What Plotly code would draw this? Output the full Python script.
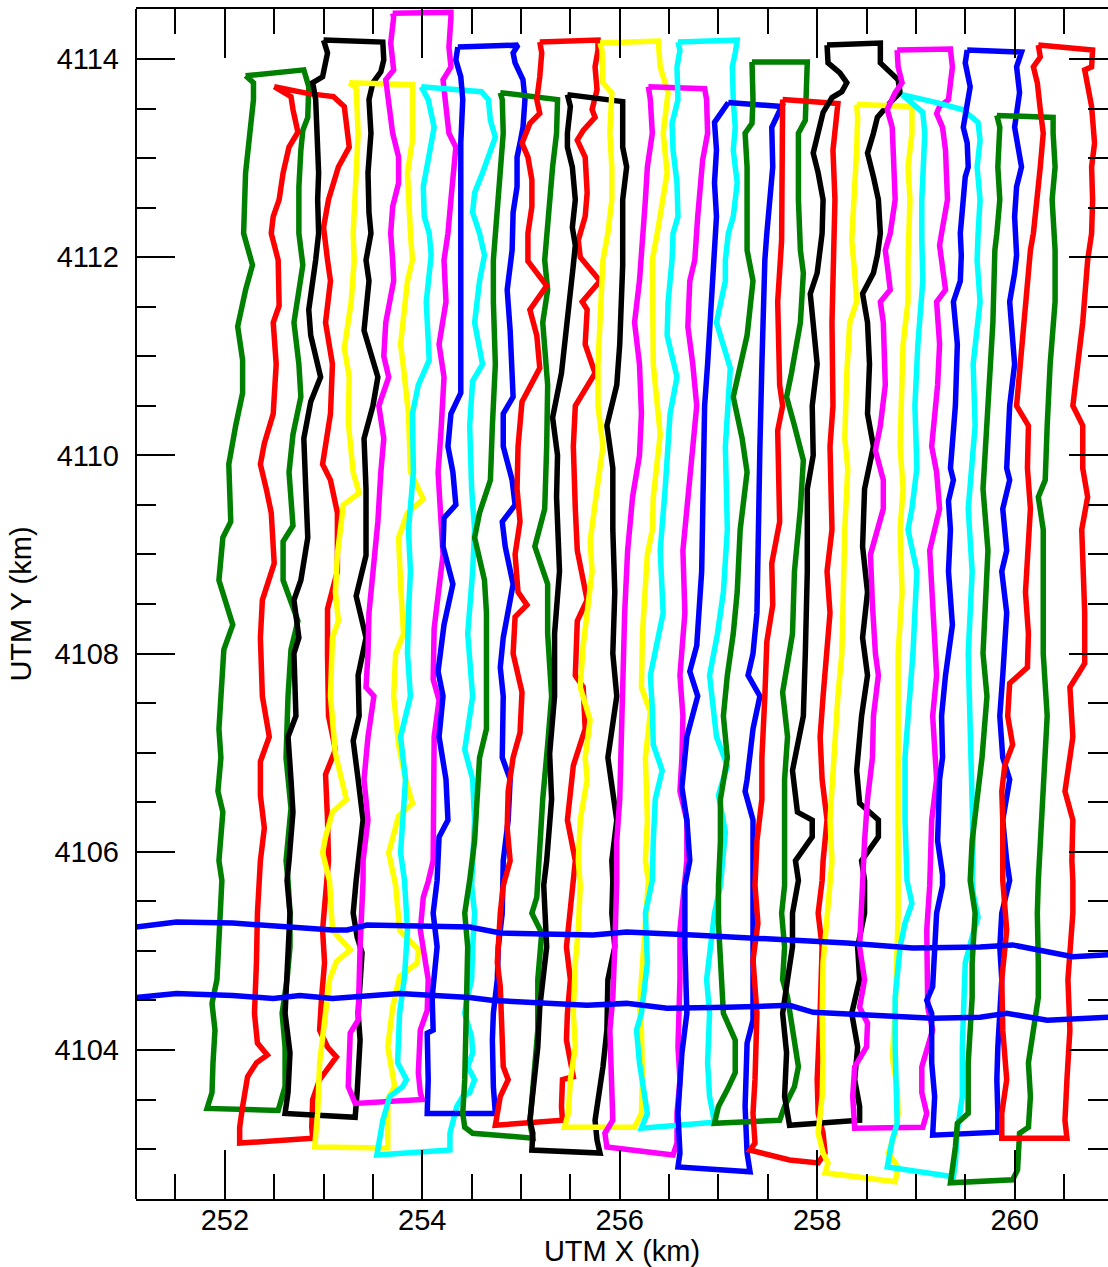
import plotly.graph_objects as go

# Survey-line loops (UTM km), each listed: top-left corner, down the west leg,
# across the south end, up the east leg, top edge back toward start.
LOOP_00 = [(252.21,4113.83),(252.29,4113.76),(252.29,4113.59),(252.26,4113.31),(252.21,4112.85),(252.19,4112.24),
    (252.28,4111.92),(252.21,4111.67),(252.13,4111.30),(252.18,4110.96),(252.18,4110.63),(252.11,4110.30),(252.04,4109.91),
    (252.06,4109.33),(251.98,4109.17),(251.94,4108.74),(252.08,4108.29),(251.99,4108.04),(251.96,4107.57),(251.94,4107.24),
    (251.96,4106.95),(251.93,4106.61),(251.98,4106.40),(251.94,4105.91),(251.97,4105.71),(251.95,4105.38),(251.93,4105.04),
    (251.92,4104.71),(251.87,4104.47),(251.90,4104.20),(251.88,4103.87),(251.87,4103.57),(251.82,4103.41),
    (252.54,4103.39),(252.61,4103.63),(252.61,4104.03),(252.58,4104.37),(252.63,4104.71),(252.66,4105.04),(252.66,4105.38),
    (252.64,4105.71),(252.62,4105.91),(252.67,4106.44),(252.62,4106.95),(252.64,4107.57),(252.67,4108.04),(252.74,4108.33),
    (252.59,4108.74),(252.59,4109.13),(252.69,4109.29),(252.65,4109.83),(252.69,4110.21),(252.77,4110.59),(252.75,4110.92),
    (252.70,4111.34),(252.79,4111.92),(252.75,4112.24),(252.75,4112.71),(252.77,4113.08),(252.79,4113.28),(252.84,4113.41),
    (252.85,4113.72),(252.80,4113.89)]
LOOP_01 = [(252.50,4113.72),(252.67,4113.62),(252.69,4113.49),(252.74,4113.26),(252.65,4113.11),(252.59,4112.85),
    (252.55,4112.58),(252.49,4112.41),(252.47,4112.24),(252.54,4111.97),(252.55,4111.51),(252.49,4111.34),(252.52,4110.92),
    (252.49,4110.42),(252.40,4110.12),(252.36,4109.91),(252.42,4109.66),(252.47,4109.42),(252.50,4108.91),(252.38,4108.54),
    (252.36,4108.16),(252.38,4107.57),(252.45,4107.16),(252.36,4106.91),(252.36,4106.57),(252.40,4106.24),(252.36,4105.91),
    (252.33,4105.38),(252.32,4104.88),(252.30,4104.37),(252.33,4104.07),(252.43,4103.95),(252.32,4103.87),(252.23,4103.73),
    (252.18,4103.43),(252.15,4103.22),(252.15,4103.06),
    (252.89,4103.11),(252.88,4103.22),(252.89,4103.50),(252.96,4103.70),(253.13,4103.93),(253.04,4104.03),(252.96,4104.20),
    (252.98,4104.53),(253.01,4104.88),(252.99,4105.21),(253.04,4105.71),(253.05,4105.91),(253.04,4106.32),(253.02,4106.78),
    (253.12,4107.03),(253.05,4107.37),(253.04,4107.99),(253.04,4108.45),(253.14,4108.83),(253.14,4109.42),(253.07,4109.75),
    (252.99,4109.91),(253.07,4110.42),(253.09,4110.92),(253.02,4111.34),(253.07,4111.76),(253.04,4111.97),(253.00,4112.30),
    (253.05,4112.58),(253.15,4112.91),(253.26,4113.11),(253.21,4113.52),(253.10,4113.62),(252.85,4113.65)]
LOOP_02 = [(253.00,4114.19),(253.04,4114.06),(252.99,4113.82),(252.89,4113.76),(252.92,4113.59),(252.94,4113.25),
    (252.95,4112.85),(252.94,4112.58),(252.95,4112.24),(252.92,4111.97),(252.85,4111.47),(252.87,4111.21),(252.97,4110.79),
    (252.87,4110.54),(252.80,4110.17),(252.82,4109.66),(252.84,4109.17),(252.77,4108.74),(252.70,4108.54),(252.75,4108.16),
    (252.70,4108.00),(252.72,4107.37),(252.64,4107.16),(252.67,4106.73),(252.69,4106.40),(252.65,4105.91),(252.63,4105.71),
    (252.66,4105.38),(252.63,4104.88),(252.61,4104.37),(252.66,4103.97),(252.64,4103.57),(252.61,4103.36),
    (253.32,4103.32),(253.34,4103.57),(253.37,4104.10),(253.35,4104.37),(253.37,4104.78),(253.39,4104.98),(253.34,4105.14),
    (253.30,4105.38),(253.33,4105.71),(253.40,4106.32),(253.35,4106.73),(253.30,4107.12),(253.36,4107.37),(253.35,4107.78),
    (253.43,4108.16),(253.33,4108.58),(253.43,4108.99),(253.43,4109.66),(253.41,4110.17),(253.50,4110.50),(253.55,4110.79),
    (253.41,4111.26),(253.46,4111.76),(253.43,4111.97),(253.48,4112.24),(253.46,4112.45),(253.45,4112.85),(253.48,4113.25),
    (253.46,4113.59),(253.50,4113.76),(253.58,4113.87),(253.61,4113.99),(253.60,4114.17)]
LOOP_03 = [(253.26,4113.76),(253.33,4113.71),(253.35,4113.25),(253.33,4112.91),(253.31,4112.58),(253.30,4112.24),
    (253.31,4111.97),(253.28,4111.55),(253.21,4111.08),(253.26,4110.79),(253.25,4110.34),(253.30,4109.83),(253.36,4109.62),
    (253.20,4109.50),(253.14,4109.00),(253.12,4108.62),(253.15,4108.33),(253.09,4108.16),(253.07,4107.57),(253.12,4106.99),
    (253.23,4106.53),(253.09,4106.40),(253.02,4106.15),(252.99,4105.99),(253.06,4105.71),(253.09,4105.21),(253.27,4105.01),
    (253.13,4104.89),(253.06,4104.71),(253.01,4104.30),(252.96,4103.87),(252.94,4103.36),(252.91,4103.02),
    (253.65,4103.01),(253.65,4103.50),(253.72,4103.63),(253.70,4103.77),(253.65,4104.03),(253.70,4104.43),(253.77,4104.74),
    (253.95,4104.88),(253.96,4105.01),(253.77,4105.21),(253.73,4105.66),(253.66,4105.99),(253.76,4106.36),(253.90,4106.49),
    (253.83,4106.73),(253.76,4107.08),(253.71,4107.57),(253.73,4108.00),(253.81,4108.20),(253.78,4108.70),(253.76,4109.17),
    (253.85,4109.42),(254.01,4109.56),(253.88,4109.83),(253.86,4110.42),(253.81,4110.88),(253.78,4111.12),(253.85,4111.76),
    (253.90,4111.97),(253.88,4112.24),(253.86,4112.58),(253.85,4112.85),(253.90,4113.18),(253.91,4113.62),(253.90,4113.74)]
LOOP_04 = [(253.70,4114.46),(253.71,4114.42),(253.68,4114.16),(253.71,4113.89),(253.63,4113.79),(253.66,4113.59),
    (253.70,4113.25),(253.76,4113.01),(253.76,4112.75),(253.70,4112.51),(253.68,4112.24),(253.70,4111.97),(253.71,4111.76),
    (253.63,4111.34),(253.61,4111.00),(253.66,4110.79),(253.56,4110.50),(253.61,4110.17),(253.58,4109.83),(253.55,4109.33),
    (253.50,4108.74),(253.46,4108.41),(253.45,4108.00),(253.43,4107.66),(253.51,4107.57),(253.45,4107.16),(253.41,4106.73),
    (253.45,4106.32),(253.40,4105.91),(253.40,4105.71),(253.37,4105.04),(253.35,4104.30),(253.27,4104.17),(253.25,4103.63),
    (253.32,4103.46),
    (254.00,4103.50),(253.98,4103.57),(253.96,4103.77),(253.98,4104.20),(254.05,4104.40),(254.06,4104.71),(254.01,4105.01),
    (253.98,4105.21),(254.01,4105.54),(254.06,4105.70),(254.11,4105.91),(254.12,4106.53),(254.12,4107.16),(254.17,4107.53),
    (254.11,4107.74),(254.12,4108.25),(254.16,4108.58),(254.21,4109.00),(254.19,4109.33),(254.16,4109.83),(254.19,4110.25),
    (254.22,4110.79),(254.17,4111.12),(254.24,4111.55),(254.22,4111.97),(254.26,4112.24),(254.29,4112.58),(254.32,4112.85),
    (254.34,4113.11),(254.27,4113.25),(254.24,4113.59),(254.21,4113.79),(254.29,4113.92),(254.27,4114.12),(254.29,4114.42),
    (254.29,4114.47)]
LOOP_05 = [(253.99,4113.72),(254.06,4113.59),(254.12,4113.31),(254.07,4113.05),(254.01,4112.71),(254.02,4112.41),
    (254.07,4112.24),(254.09,4112.02),(254.04,4111.55),(254.07,4110.96),(253.96,4110.71),(253.90,4110.42),(253.91,4109.83),
    (253.86,4109.25),(253.88,4108.83),(253.86,4108.41),(253.85,4108.00),(253.88,4107.57),(253.78,4107.16),(253.83,4106.73),
    (253.80,4106.32),(253.78,4105.99),(253.82,4105.71),(253.85,4105.21),(253.82,4104.74),(253.77,4104.37),(253.75,4103.87),
    (253.84,4103.70),(253.80,4103.63),(253.67,4103.53),(253.60,4103.29),(253.57,4103.09),(253.54,4102.94),
    (254.28,4102.99),(254.28,4103.16),(254.35,4103.43),(254.41,4103.53),(254.48,4103.57),(254.53,4103.70),(254.46,4103.83),
    (254.51,4103.97),(254.50,4104.13),(254.43,4104.37),(254.45,4104.50),(254.50,4104.71),(254.51,4105.04),(254.53,4105.38),
    (254.50,4105.66),(254.53,4106.32),(254.51,4106.73),(254.43,4107.03),(254.51,4107.57),(254.46,4108.20),(254.51,4108.83),
    (254.53,4109.25),(254.50,4109.66),(254.48,4110.30),(254.51,4110.75),(254.61,4110.92),(254.53,4111.34),(254.58,4111.76),
    (254.63,4112.02),(254.58,4112.24),(254.51,4112.45),(254.53,4112.65),(254.61,4112.85),(254.69,4113.05),(254.74,4113.21),
    (254.69,4113.38),(254.67,4113.59),(254.60,4113.67),(254.38,4113.69)]
LOOP_06 = [(254.36,4114.12),(254.34,4113.99),(254.39,4113.82),(254.41,4113.59),(254.39,4113.15),(254.39,4112.58),
    (254.39,4111.97),(254.39,4111.55),(254.39,4110.63),(254.29,4110.42),(254.26,4110.09),(254.31,4109.83),(254.34,4109.50),
    (254.22,4109.37),(254.21,4109.08),(254.31,4108.70),(254.22,4108.29),(254.16,4107.82),(254.21,4107.57),(254.17,4107.16),
    (254.24,4106.73),(254.26,4106.32),(254.17,4106.15),(254.15,4105.71),(254.11,4105.38),(254.15,4105.04),(254.10,4104.53),
    (254.11,4104.20),(254.05,4104.17),(254.06,4103.70),(254.05,4103.36),
    (254.74,4103.36),(254.72,4103.63),(254.71,4104.10),(254.72,4104.37),(254.76,4104.71),(254.77,4105.04),(254.81,4105.38),
    (254.81,4105.71),(254.82,4105.91),(254.87,4106.32),(254.89,4106.73),(254.81,4106.95),(254.82,4107.57),(254.79,4107.86),
    (254.82,4108.16),(254.92,4108.70),(254.84,4109.08),(254.81,4109.33),(254.94,4109.50),(254.91,4109.75),(254.82,4110.09),
    (254.82,4110.42),(254.92,4110.59),(254.89,4111.26),(254.86,4111.67),(254.91,4112.07),(254.92,4112.45),(254.96,4112.71),
    (254.96,4113.01),(254.99,4113.15),(255.02,4113.31),(255.04,4113.59),(255.02,4113.79),(254.94,4113.96),(254.92,4114.06),
    (254.97,4114.14)]
LOOP_07 = [(254.79,4113.66),(254.81,4113.59),(254.82,4113.25),(254.79,4112.91),(254.77,4112.58),(254.74,4112.24),
    (254.72,4111.97),(254.72,4111.55),(254.74,4110.92),(254.71,4110.30),(254.69,4109.75),(254.58,4109.42),(254.53,4109.17),
    (254.63,4108.74),(254.65,4108.41),(254.65,4107.78),(254.65,4107.24),(254.58,4106.95),(254.56,4106.53),(254.53,4106.11),
    (254.48,4105.71),(254.43,4105.38),(254.46,4105.04),(254.45,4104.53),(254.43,4104.03),(254.43,4103.70),(254.41,4103.36),
    (254.43,4103.22),(254.51,4103.16),
    (255.12,4103.11),(255.09,4103.26),(255.11,4103.53),(255.14,4103.77),(255.17,4104.20),(255.17,4104.71),(255.21,4105.18),
    (255.11,4105.38),(255.16,4105.54),(255.17,4105.71),(255.19,4106.11),(255.22,4106.53),(255.27,4107.08),(255.31,4107.57),
    (255.27,4108.20),(255.27,4108.70),(255.14,4109.08),(255.24,4109.46),(255.26,4110.09),(255.27,4110.71),(255.22,4111.34),
    (255.27,4111.67),(255.24,4111.97),(255.26,4112.24),(255.29,4112.58),(255.32,4112.91),(255.36,4113.25),(255.37,4113.59)]
LOOP_08 = [(255.19,4114.17),(255.21,4114.06),(255.19,4113.82),(255.16,4113.59),(255.19,4113.45),(255.09,4113.35),
    (255.01,4113.15),(255.07,4113.01),(255.11,4112.78),(255.11,4112.51),(255.07,4112.24),(255.07,4111.96),(255.26,4111.71),
    (255.09,4111.47),(255.16,4111.21),(255.19,4110.88),(255.01,4110.54),(254.97,4110.09),(254.96,4109.66),(254.99,4109.33),
    (254.94,4109.00),(254.97,4108.62),(255.06,4108.49),(254.94,4108.37),(254.92,4108.00),(255.01,4107.61),(254.99,4107.20),
    (254.92,4106.95),(254.87,4106.61),(254.86,4106.24),(254.89,4105.91),(254.82,4105.66),(254.79,4105.38),(254.76,4104.88),
    (254.79,4104.64),(254.81,4104.20),(254.82,4103.83),(254.87,4103.70),(254.79,4103.53),(254.74,4103.24),
    (255.42,4103.29),(255.41,4103.43),(255.42,4103.70),(255.53,4103.73),(255.46,4104.10),(255.47,4104.37),(255.50,4104.71),
    (255.46,4105.04),(255.50,4105.38),(255.53,4105.71),(255.55,4105.91),(255.47,4106.32),(255.53,4106.87),(255.65,4107.24),
    (255.63,4107.66),(255.55,4107.78),(255.57,4108.33),(255.67,4108.54),(255.57,4109.04),(255.55,4109.46),(255.53,4110.09),
    (255.55,4110.50),(255.75,4110.83),(255.65,4111.12),(255.67,4111.47),(255.62,4111.55),(255.80,4111.76),(255.60,4112.00),
    (255.58,4112.17),(255.65,4112.41),(255.67,4112.65),(255.65,4113.01),(255.57,4113.18),(255.63,4113.28),(255.75,4113.41),
    (255.72,4113.49),(255.77,4113.69),(255.75,4113.92),(255.78,4114.09),(255.78,4114.19)]
LOOP_09 = [(255.47,4113.64),(255.50,4113.52),(255.47,4113.25),(255.47,4113.11),(255.52,4112.91),(255.55,4112.58),
    (255.52,4112.30),(255.55,4112.12),(255.53,4111.92),(255.47,4111.34),(255.41,4110.83),(255.32,4110.38),(255.37,4110.00),
    (255.36,4109.58),(255.39,4108.83),(255.34,4108.20),(255.34,4107.57),(255.29,4106.99),(255.31,4106.53),(255.26,4105.91),
    (255.23,4105.66),(255.26,4105.04),(255.19,4104.43),(255.17,4104.03),(255.14,4103.70),(255.09,4103.29),(255.12,4103.16),
    (255.11,4102.99),
    (255.80,4102.96),(255.77,4103.09),(255.75,4103.29),(255.80,4103.63),(255.83,4103.83),(255.87,4104.20),(255.88,4104.71),
    (255.95,4105.04),(255.92,4105.38),(255.93,4105.71),(255.92,4105.91),(255.97,4106.32),(255.88,4106.95),(255.97,4107.57),
    (255.93,4108.00),(255.95,4108.62),(255.93,4109.25),(255.93,4109.87),(255.87,4110.30),(255.97,4110.71),(256.00,4111.12),
    (256.03,4111.92),(256.03,4112.58),(256.07,4112.91),(256.03,4113.11),(256.03,4113.49),(256.03,4113.57)]
LOOP_10 = [(255.80,4114.16),(255.82,4114.09),(255.83,4113.76),(255.92,4113.66),(255.90,4113.25),(255.92,4112.91),
    (255.92,4112.58),(255.88,4112.24),(255.83,4111.97),(255.82,4111.76),(255.78,4110.92),(255.78,4110.50),(255.83,4110.09),
    (255.77,4109.66),(255.70,4109.13),(255.72,4108.83),(255.63,4108.08),(255.60,4107.66),(255.70,4107.33),(255.65,4106.95),
    (255.67,4106.73),(255.60,4106.32),(255.58,4105.91),(255.60,4105.66),(255.58,4105.21),(255.55,4104.88),(255.53,4104.37),
    (255.55,4104.03),(255.50,4103.70),(255.48,4103.36),(255.44,4103.22),
    (256.15,4103.22),(256.22,4103.36),(256.23,4103.70),(256.22,4104.20),(256.20,4104.43),(256.23,4104.88),(256.26,4105.38),
    (256.29,4105.71),(256.26,4105.91),(256.28,4106.32),(256.26,4106.95),(256.31,4107.41),(256.22,4107.66),(256.23,4108.20),
    (256.28,4109.00),(256.33,4109.25),(256.34,4109.58),(256.41,4110.21),(256.34,4110.92),(256.33,4111.55),(256.33,4111.97),
    (256.38,4112.24),(256.44,4112.58),(256.48,4112.85),(256.44,4113.25),(256.49,4113.66),(256.41,4113.92),(256.39,4114.18)]
LOOP_11 = [(256.29,4113.72),(256.31,4113.59),(256.33,4113.25),(256.28,4112.91),(256.26,4112.58),(256.24,4112.24),
    (256.22,4111.97),(256.20,4111.76),(256.15,4111.34),(256.20,4110.92),(256.22,4110.42),(256.20,4110.00),(256.13,4109.58),
    (256.08,4109.04),(256.05,4108.41),(256.03,4107.78),(256.02,4107.16),(256.00,4106.53),(255.97,4106.11),(255.97,4105.71),
    (255.95,4105.04),(255.93,4104.53),(255.90,4104.20),(255.92,4103.70),(255.93,4103.29),(255.85,4103.16),(255.87,4103.02),
    (256.54,4102.94),(256.58,4103.06),(256.58,4103.36),(256.61,4103.70),(256.59,4104.03),(256.61,4104.71),(256.61,4105.21),
    (256.64,4105.54),(256.68,4105.91),(256.68,4106.32),(256.61,4106.61),(256.63,4106.95),(256.64,4107.37),(256.61,4107.78),
    (256.66,4108.41),(256.64,4109.04),(256.68,4109.46),(256.74,4109.95),(256.78,4110.50),(256.74,4110.92),(256.69,4111.30),
    (256.71,4111.76),(256.76,4111.97),(256.79,4112.41),(256.81,4112.71),(256.84,4112.98),(256.89,4113.25),(256.88,4113.59),
    (256.86,4113.70)]
LOOP_12 = [(256.59,4114.17),(256.61,4114.09),(256.58,4113.92),(256.59,4113.59),(256.53,4113.35),(256.54,4113.08),
    (256.58,4112.75),(256.59,4112.41),(256.54,4112.24),(256.53,4111.97),(256.49,4111.55),(256.48,4111.21),(256.58,4110.79),
    (256.51,4110.42),(256.46,4109.66),(256.41,4109.04),(256.44,4108.41),(256.31,4107.78),(256.33,4107.45),(256.34,4107.08),
    (256.43,4106.82),(256.36,4106.53),(256.34,4106.11),(256.33,4105.71),(256.26,4105.38),(256.28,4104.88),(256.22,4104.37),
    (256.17,4104.20),(256.20,4103.87),(256.26,4103.53),(256.28,4103.36),(256.22,4103.21),
    (256.96,4103.27),(256.91,4103.53),(256.89,4103.87),(256.91,4104.37),(256.88,4104.71),(256.96,4105.38),(257.02,4105.66),
    (257.07,4106.20),(257.00,4106.57),(257.09,4106.87),(256.98,4107.16),(256.91,4107.78),(256.99,4108.20),(257.05,4108.62),
    (257.09,4109.25),(257.07,4110.09),(257.09,4110.50),(257.12,4110.88),(256.98,4111.34),(257.07,4111.76),(257.07,4111.97),
    (257.10,4112.24),(257.15,4112.41),(257.19,4112.75),(257.15,4113.08),(257.17,4113.31),(257.15,4113.59),(257.14,4113.92),
    (257.17,4114.06),(257.19,4114.19)]
LOOP_13 = [(257.10,4113.56),(256.96,4113.36),(256.98,4113.08),(256.96,4112.75),(256.98,4112.41),(256.96,4112.07),
    (256.94,4111.55),(256.89,4110.92),(256.86,4110.50),(256.84,4109.66),(256.83,4108.83),(256.78,4108.08),(256.71,4107.82),
    (256.79,4107.57),(256.74,4107.37),(256.68,4107.16),(256.63,4106.65),(256.68,4106.32),(256.71,4105.91),(256.66,4105.66),
    (256.66,4105.04),(256.68,4104.37),(256.63,4103.97),(256.59,4103.36),(256.61,4102.96),(256.59,4102.82),
    (257.32,4102.77),(257.29,4102.96),(257.27,4103.43),(257.29,4103.83),(257.29,4104.07),(257.35,4104.30),(257.35,4104.78),
    (257.34,4105.38),(257.35,4105.71),(257.34,4105.91),(257.35,4106.32),(257.27,4106.61),(257.29,4106.73),(257.35,4107.24),
    (257.42,4107.57),(257.30,4107.78),(257.35,4108.00),(257.39,4108.41),(257.40,4109.25),(257.42,4110.09),(257.44,4110.92),
    (257.45,4111.55),(257.47,4111.97),(257.49,4112.24),(257.52,4112.58),(257.55,4112.91),(257.54,4113.31),(257.64,4113.52)]
LOOP_14 = [(257.34,4113.97),(257.35,4113.59),(257.34,4113.35),(257.27,4113.25),(257.29,4112.91),(257.29,4112.58),
    (257.29,4112.07),(257.35,4111.76),(257.29,4111.21),(257.15,4110.59),(257.24,4110.17),(257.29,4109.83),(257.22,4109.25),
    (257.19,4108.62),(257.15,4108.20),(257.09,4107.78),(257.05,4107.37),(257.09,4106.95),(257.02,4106.53),(257.02,4106.11),
    (257.00,4105.66),(257.00,4105.28),(257.05,4104.37),(257.17,4104.10),(257.17,4103.77),(257.09,4103.60),(257.00,4103.43),
    (256.96,4103.26),
    (257.62,4103.29),(257.67,4103.43),(257.77,4103.63),(257.81,4103.83),(257.75,4104.20),(257.70,4104.53),(257.65,4104.71),
    (257.67,4105.04),(257.64,4105.38),(257.67,4105.66),(257.67,4106.32),(257.67,4106.73),(257.70,4107.16),(257.65,4107.61),
    (257.75,4108.20),(257.77,4108.83),(257.83,4109.46),(257.86,4109.95),(257.77,4110.30),(257.69,4110.59),(257.74,4110.83),
    (257.83,4111.34),(257.86,4111.84),(257.83,4112.07),(257.81,4112.58),(257.81,4112.91),(257.81,4113.25),(257.88,4113.38),
    (257.90,4113.76),(257.90,4113.97)]
LOOP_15 = [(257.65,4113.59),(257.65,4113.08),(257.64,4112.58),(257.64,4112.17),(257.60,4111.55),(257.62,4110.71),
    (257.65,4110.50),(257.60,4110.25),(257.62,4109.33),(257.54,4108.91),(257.55,4108.49),(257.49,4108.12),(257.47,4107.57),
    (257.44,4106.95),(257.44,4106.53),(257.39,4106.11),(257.37,4105.66),(257.40,4105.28),(257.35,4104.91),(257.39,4104.37),
    (257.37,4103.70),(257.35,4103.36),(257.37,4103.06),(257.32,4102.99),(257.72,4102.89),
    (258.01,4102.86),(258.08,4102.96),(258.06,4103.16),(258.01,4103.36),(258.00,4103.70),(258.03,4104.37),(258.05,4105.04),
    (258.01,4105.38),(258.05,4105.71),(258.06,4105.91),(258.10,4106.32),(258.05,4106.73),(258.03,4107.16),(258.06,4107.57),
    (258.10,4108.00),(258.13,4108.41),(258.10,4108.83),(258.15,4109.25),(258.13,4110.09),(258.16,4110.50),(258.15,4111.34),
    (258.16,4112.07),(258.18,4112.58),(258.16,4113.08),(258.20,4113.41),(258.21,4113.55)]
LOOP_16 = [(258.10,4114.14),(258.11,4113.96),(258.23,4113.86),(258.30,4113.76),(258.25,4113.67),(258.15,4113.61),
    (258.06,4113.46),(258.00,4113.18),(257.96,4113.05),(258.01,4112.85),(258.06,4112.58),(258.05,4112.24),(258.03,4112.07),
    (258.00,4111.84),(257.93,4111.63),(257.96,4111.34),(258.00,4110.92),(257.95,4110.50),(257.96,4110.00),(257.90,4109.66),
    (257.90,4108.83),(257.88,4108.00),(257.86,4107.37),(257.75,4106.82),(257.80,4106.40),(257.95,4106.32),(257.95,4106.15),
    (257.78,4105.91),(257.81,4105.71),(257.75,4105.38),(257.75,4105.04),(257.70,4104.71),(257.65,4104.37),(257.69,4103.97),
    (257.67,4103.53),(257.72,4103.24),
    (258.43,4103.29),(258.43,4103.43),(258.38,4103.70),(258.41,4104.03),(258.35,4104.37),(258.43,4104.71),(258.41,4105.04),
    (258.48,4105.38),(258.48,4105.71),(258.45,4105.91),(258.62,4106.15),(258.62,4106.32),(258.43,4106.49),(258.40,4106.82),
    (258.45,4107.37),(258.51,4107.78),(258.46,4108.16),(258.51,4108.62),(258.46,4109.08),(258.48,4109.66),(258.57,4110.09),
    (258.51,4110.42),(258.53,4110.92),(258.51,4111.34),(258.46,4111.63),(258.57,4111.84),(258.61,4112.02),(258.64,4112.24),
    (258.62,4112.58),(258.57,4112.81),(258.51,4113.05),(258.57,4113.25),(258.61,4113.41),(258.74,4113.56),(258.84,4113.66),
    (258.82,4113.79),(258.71,4113.89),(258.64,4113.96),(258.64,4114.16)]
LOOP_17 = [(258.40,4113.54),(258.41,4113.41),(258.40,4113.08),(258.38,4112.58),(258.35,4112.17),(258.38,4111.84),
    (258.40,4111.55),(258.33,4111.34),(258.30,4110.83),(258.28,4110.17),(258.31,4109.87),(258.28,4109.25),(258.26,4108.62),
    (258.25,4108.00),(258.21,4107.57),(258.18,4107.16),(258.15,4106.73),(258.13,4106.32),(258.15,4105.91),(258.13,4105.71),
    (258.10,4105.38),(258.06,4104.88),(258.05,4104.37),(258.06,4103.87),(258.05,4103.53),(258.01,4103.16),(258.06,4102.96),
    (258.11,4102.86),(258.08,4102.76),
    (258.79,4102.67),(258.82,4102.82),(258.72,4102.96),(258.79,4103.16),(258.82,4103.36),(258.81,4103.63),(258.76,4103.93),
    (258.79,4104.37),(258.81,4104.88),(258.82,4105.38),(258.82,4105.71),(258.82,4106.32),(258.82,4106.95),(258.81,4107.37),
    (258.82,4108.00),(258.86,4108.62),(258.84,4109.25),(258.87,4109.66),(258.84,4110.09),(258.87,4111.12),(258.92,4111.55),
    (258.92,4111.97),(258.94,4112.58),(258.92,4112.91),(258.96,4113.25),(258.96,4113.52)]
LOOP_18 = [(258.81,4114.09),(258.82,4113.92),(258.86,4113.76),(258.79,4113.66),(258.71,4113.49),(258.76,4113.31),
    (258.77,4113.08),(258.79,4112.58),(258.74,4112.24),(258.69,4112.07),(258.71,4111.92),(258.74,4111.67),(258.64,4111.55),
    (258.67,4111.34),(258.69,4110.71),(258.64,4110.30),(258.59,4110.05),(258.67,4109.75),(258.67,4109.46),(258.54,4109.00),
    (258.56,4108.49),(258.59,4108.00),(258.62,4107.78),(258.57,4107.37),(258.56,4106.95),(258.51,4106.53),(258.48,4106.11),
    (258.46,4105.66),(258.45,4105.38),(258.43,4105.04),(258.48,4104.71),(258.43,4104.43),(258.51,4104.27),(258.50,4104.03),
    (258.38,4103.83),(258.36,4103.53),(258.38,4103.21),
    (259.07,4103.22),(259.11,4103.36),(259.06,4103.57),(259.06,4103.83),(259.12,4104.03),(259.17,4104.20),(259.12,4104.43),
    (259.12,4104.88),(259.11,4105.21),(259.14,4105.66),(259.16,4106.32),(259.21,4106.73),(259.17,4107.37),(259.21,4107.78),
    (259.19,4108.20),(259.16,4108.62),(259.14,4109.04),(259.24,4109.46),(259.21,4109.83),(259.16,4110.09),(259.22,4110.71),
    (259.24,4111.12),(259.21,4111.55),(259.30,4111.67),(259.27,4111.92),(259.24,4112.12),(259.26,4112.24),(259.32,4112.58),
    (259.30,4113.08),(259.27,4113.31),(259.21,4113.45),(259.24,4113.52),(259.33,4113.59),(259.37,4113.92),(259.35,4114.10)]
LOOP_19 = [(258.86,4113.64),(259.07,4113.46),(259.09,4113.25),(259.07,4112.91),(259.06,4112.58),(259.06,4112.17),
    (259.07,4111.76),(259.02,4111.12),(258.99,4110.50),(259.01,4109.87),(258.96,4109.46),(258.92,4109.25),(259.01,4108.83),
    (258.97,4108.00),(258.94,4107.57),(258.89,4106.95),(258.89,4106.32),(258.91,4105.71),(258.96,4105.48),(258.89,4105.28),
    (258.84,4105.04),(258.79,4104.53),(258.79,4104.03),(258.81,4103.53),(258.81,4103.26),(258.76,4103.09),(258.71,4102.82),
    (259.38,4102.72),(259.40,4102.86),(259.42,4103.19),(259.47,4103.53),(259.47,4104.03),(259.48,4104.53),(259.50,4104.88),
    (259.57,4105.14),(259.63,4105.34),(259.58,4105.58),(259.57,4105.71),(259.58,4106.11),(259.57,4106.53),(259.55,4107.37),
    (259.53,4108.00),(259.57,4108.83),(259.53,4109.46),(259.60,4110.30),(259.58,4110.92),(259.65,4111.55),(259.62,4111.97),
    (259.63,4112.24),(259.65,4112.58),(259.62,4112.91),(259.65,4113.18),(259.63,4113.36),(259.47,4113.49),(259.21,4113.56)]
LOOP_20 = [(259.52,4114.09),(259.50,4113.96),(259.55,4113.72),(259.52,4113.52),(259.48,4113.31),(259.52,4113.15),
    (259.53,4112.91),(259.50,4112.81),(259.48,4112.58),(259.45,4112.24),(259.46,4112.02),(259.45,4111.76),(259.38,4111.55),
    (259.42,4111.12),(259.40,4110.50),(259.35,4109.87),(259.38,4109.75),(259.33,4109.54),(259.35,4109.25),(259.33,4108.83),
    (259.37,4108.29),(259.30,4107.78),(259.26,4107.37),(259.27,4106.95),(259.24,4106.73),(259.22,4106.11),(259.27,4105.77),
    (259.27,4105.66),(259.21,4105.38),(259.19,4105.04),(259.17,4104.64),(259.11,4104.50),(259.16,4104.37),(259.16,4103.87),
    (259.19,4103.53),(259.17,4103.14),
    (259.83,4103.17),(259.83,4103.36),(259.82,4103.70),(259.83,4104.03),(259.85,4104.37),(259.87,4104.71),(259.85,4105.04),
    (259.87,4105.38),(259.95,4105.71),(259.92,4105.91),(259.88,4106.32),(259.95,4106.73),(259.88,4106.95),(259.85,4107.37),
    (259.88,4107.78),(259.92,4108.41),(259.87,4108.83),(259.92,4109.04),(259.88,4109.46),(259.95,4109.75),(259.92,4109.87),
    (259.95,4110.50),(260.00,4110.92),(259.95,4111.55),(260.00,4111.84),(260.02,4112.02),(260.00,4112.41),(260.02,4112.71),
    (260.07,4112.91),(260.00,4113.31),(260.05,4113.66),(260.02,4113.92),(260.07,4114.07)]
LOOP_21 = [(259.82,4113.43),(259.85,4113.31),(259.83,4112.91),(259.85,4112.58),(259.82,4112.24),(259.80,4112.07),
    (259.78,4111.34),(259.73,4110.50),(259.68,4109.66),(259.73,4109.04),(259.70,4108.41),(259.68,4108.00),(259.72,4107.57),
    (259.67,4106.95),(259.62,4106.53),(259.57,4106.11),(259.55,4105.71),(259.60,4105.38),(259.57,4104.88),(259.57,4104.53),
    (259.53,4103.87),(259.53,4103.36),(259.42,4103.26),(259.40,4103.02),(259.35,4102.66),
    (259.98,4102.69),(260.03,4102.79),(260.05,4103.02),(260.05,4103.16),(260.14,4103.22),(260.16,4103.53),(260.14,4103.87),
    (260.19,4104.20),(260.24,4104.53),(260.24,4104.88),(260.23,4105.38),(260.24,4105.71),(260.26,4106.11),(260.29,4106.73),
    (260.33,4107.37),(260.29,4108.00),(260.29,4108.62),(260.29,4109.25),(260.24,4109.58),(260.31,4109.75),(260.33,4110.30),
    (260.36,4110.92),(260.41,4111.55),(260.41,4112.07),(260.38,4112.58),(260.41,4112.91),(260.39,4113.25),(260.39,4113.41)]
LOOP_22 = [(260.24,4114.14),(260.26,4114.02),(260.19,4113.92),(260.23,4113.76),(260.26,4113.49),(260.29,4113.25),
    (260.26,4112.91),(260.23,4112.58),(260.19,4112.24),(260.16,4112.07),(260.13,4111.76),(260.06,4110.92),(260.02,4110.50),
    (260.14,4110.30),(260.13,4109.87),(260.16,4109.46),(260.13,4109.04),(260.11,4108.62),(260.14,4108.20),(260.13,4107.86),
    (259.95,4107.70),(259.93,4107.37),(259.98,4107.08),(259.90,4106.87),(259.87,4106.61),(259.88,4106.32),(259.88,4105.91),
    (259.88,4105.71),(259.92,4105.21),(259.87,4104.71),(259.88,4104.20),(259.92,4103.70),(259.87,4103.36),(259.87,4103.11),
    (260.53,4103.11),(260.51,4103.29),(260.53,4103.70),(260.56,4104.20),(260.54,4104.71),(260.59,4105.38),(260.59,4105.71),
    (260.58,4105.91),(260.59,4106.32),(260.51,4106.61),(260.56,4106.95),(260.59,4107.16),(260.56,4107.66),(260.71,4107.90),
    (260.71,4108.41),(260.69,4108.83),(260.68,4109.25),(260.74,4109.58),(260.69,4109.87),(260.69,4110.30),(260.59,4110.50),
    (260.69,4111.34),(260.74,4111.97),(260.78,4112.24),(260.79,4112.58),(260.78,4112.91),(260.81,4113.15),(260.78,4113.52),
    (260.74,4113.72),(260.71,4113.89),(260.78,4113.92),(260.79,4114.09)]

TRACK_COLORS = ["#008000", "#ff0000", "#000000", "#ffff00", "#ff00ff", "#00ffff", "#0000ff"]

# Two long east-west lines (blue)
LINE_A_X = [251.10, 251.51, 252.08, 252.59, 253.09, 253.24, 253.44, 254.48, 254.79, 255.73, 256.07, 256.74,
            257.72, 258.30, 258.97, 259.65, 259.98, 260.33, 260.59, 260.95]
LINE_A_Y = [4105.24, 4105.29, 4105.28, 4105.24, 4105.21, 4105.21, 4105.26, 4105.24, 4105.18, 4105.16, 4105.19,
            4105.16, 4105.11, 4105.08, 4105.03, 4105.04, 4105.06, 4104.99, 4104.94, 4104.96]
LINE_B_X = [251.10, 251.51, 252.08, 252.49, 252.76, 253.09, 253.77, 254.48, 254.72, 255.67, 256.07, 256.48,
            257.09, 257.72, 257.96, 258.64, 259.17, 259.65, 259.92, 260.33, 260.95]
LINE_B_Y = [4104.53, 4104.57, 4104.55, 4104.52, 4104.55, 4104.52, 4104.57, 4104.53, 4104.50, 4104.45, 4104.47,
            4104.42, 4104.43, 4104.45, 4104.38, 4104.35, 4104.32, 4104.33, 4104.37, 4104.30, 4104.33]

LOOPS = [LOOP_00, LOOP_01, LOOP_02, LOOP_03, LOOP_04, LOOP_05, LOOP_06, LOOP_07, LOOP_08, LOOP_09, LOOP_10, LOOP_11,
         LOOP_12, LOOP_13, LOOP_14, LOOP_15, LOOP_16, LOOP_17, LOOP_18, LOOP_19, LOOP_20, LOOP_21, LOOP_22]

fig = go.Figure()
for i, loop in enumerate(LOOPS):
    xs = [p[0] for p in loop] + [loop[0][0]]
    ys = [p[1] for p in loop] + [loop[0][1]]
    fig.add_trace(go.Scatter(x=xs, y=ys, mode="lines",
                             line=dict(color=TRACK_COLORS[i % len(TRACK_COLORS)], width=5.5),
                             hoverinfo="skip", showlegend=False))
for lx, ly in [(LINE_A_X, LINE_A_Y), (LINE_B_X, LINE_B_Y)]:
    fig.add_trace(go.Scatter(x=lx, y=ly, mode="lines", line=dict(color="#0000ff", width=5.5),
                             hoverinfo="skip", showlegend=False))

FONT = "Liberation Sans, Arial, Helvetica, sans-serif"
axis_common = dict(showgrid=False, zeroline=False, ticks="inside", tickcolor="black", tickwidth=2,
                   mirror="allticks", linecolor="black", linewidth=2,
                   tickfont=dict(family=FONT, size=29, color="black"))
fig.update_layout(
    width=1108, height=1267, autosize=False,
    margin=dict(l=136, r=0, t=9, b=68),
    paper_bgcolor="white", plot_bgcolor="white",
    showlegend=False,
    xaxis=dict(range=[251.10, 260.946], tickmode="linear", tick0=252, dtick=2, ticklen=49,
               showline=True, ticklabelstandoff=-6,
               minor=dict(tick0=252, dtick=0.5, ticklen=25, tickwidth=2, tickcolor="black",
                          ticks="inside", showgrid=False),
               title=dict(text="UTM X (km)", font=dict(family=FONT, size=29, color="black"), standoff=9),
               **axis_common),
    yaxis=dict(range=[4102.496, 4114.504], tickmode="linear", tick0=4104, dtick=2, ticklen=39,
               tickformat="d", showline=False, ticklabelstandoff=16,
               minor=dict(tick0=4104, dtick=0.5, ticklen=20, tickwidth=2, tickcolor="black",
                          ticks="inside", showgrid=False),
               title=dict(text="UTM Y (km)", font=dict(family=FONT, size=29, color="black"), standoff=14),
               **axis_common),
    shapes=[dict(type="line", xref="paper", yref="paper", x0=0, x1=0, y0=0, y1=1,
                 line=dict(color="black", width=2))],
)
fig.write_html("out.html", config={"displayModeBar": False})
